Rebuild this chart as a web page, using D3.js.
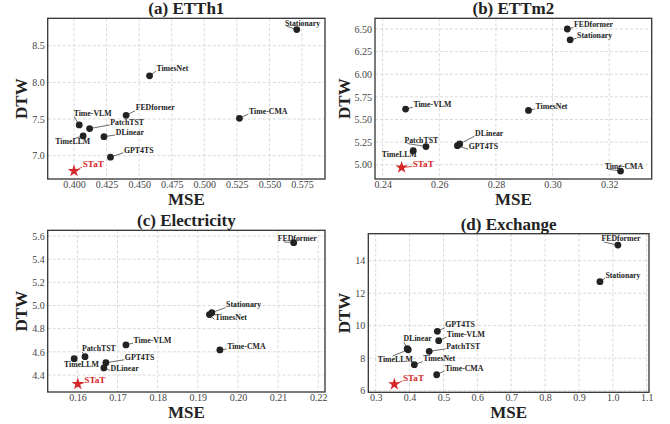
<!DOCTYPE html>
<html>
<head>
<meta charset="utf-8">
<script src="https://cdn.jsdelivr.net/npm/d3@7"></script>
<style>
  body { margin: 0; background: #fff; }
  svg { display: block; }
  svg text { font-family: "Liberation Serif", "Times New Roman", serif; }
</style>
</head>
<body>
<div id="chart"></div>
<script>
/* 4 scatterplots MSE vs DTW, one per dataset */

const models = ["Stationary", "TimesNet", "FEDformer", "Time-CMA", "Time-VLM",
                "PatchTST", "DLinear", "TimeLLM", "GPT4TS", "STaT"]

// (a) ETTh1
const etth1Mse = [0.571, 0.458, 0.440, 0.527, 0.404, 0.412, 0.423, 0.407, 0.428, 0.400]
const etth1Dtw = [8.72, 8.09, 7.55, 7.51, 7.42, 7.37, 7.26, 7.27, 6.98, 6.79]
const etth1XTicks = [0.400, 0.425, 0.450, 0.475, 0.500, 0.525, 0.550, 0.575]
const etth1YTicks = [7.0, 7.5, 8.0, 8.5]

// (b) ETTm2
const ettm2Mse = [0.3062, 0.2915, 0.3052, 0.3240, 0.2481, 0.2553, 0.2672, 0.2508, 0.2664, 0.2467]
const ettm2Dtw = [6.38, 5.60, 6.50, 4.93, 5.615, 5.20, 5.23, 5.155, 5.21, 4.97]
const ettm2XTicks = [0.24, 0.26, 0.28, 0.30, 0.32]
const ettm2YTicks = [5.00, 5.25, 5.50, 5.75, 6.00, 6.25, 6.50]

// (c) Electricity
const elecMse = [0.1935, 0.1929, 0.2139, 0.1955, 0.1721, 0.1619, 0.1666, 0.1592, 0.1671, 0.1601]
const elecDtw = [4.938, 4.921, 5.542, 4.616, 4.659, 4.558, 4.461, 4.541, 4.506, 4.322]
const elecXTicks = [0.16, 0.17, 0.18, 0.19, 0.20, 0.21, 0.22]
const elecYTicks = [4.4, 4.6, 4.8, 5.0, 5.2, 5.4, 5.6]

// (d) Exchange
const exchMse = [0.962, 0.414, 1.015, 0.480, 0.486, 0.458, 0.393, 0.396, 0.482, 0.355]
const exchDtw = [12.71, 7.60, 14.96, 6.98, 9.08, 8.42, 8.58, 8.52, 9.65, 6.39]
const exchXTicks = [0.3, 0.4, 0.5, 0.6, 0.7, 0.8, 0.9, 1.0, 1.1]
const exchYTicks = [6, 8, 10, 12, 14]

/* décalage des étiquettes (centre du texte - point), en px */
const etth1Offsets = [[5.8, -6.6], [22.8, -7.7], [29, -7.6], [28.8, -7.3], [13.4, -11.7],
                      [37.5, -6.4], [25.9, -4.4], [-10.4, 5.7], [28.3, -7.3], [19.3, -7.4]]
const ettm2Offsets = [[24.5, -4.4], [23, -4.3], [26.2, -4.3], [3.3, -5], [26.8, -4.7],
                      [-4.7, -6.3], [29.5, -10.7], [-14, 3.3], [26, 1], [21.6, -4]]
const elecOffsets = [[31.8, -8], [21.5, 2.6], [3.5, -4], [26.5, -3.7], [26.5, -4.7],
                     [13.8, -8], [20.7, 0], [7.2, 5.6], [33.7, -5.7], [17.1, -4.3]]
const exchOffsets = [[23, -6.4], [24.9, -6], [3.1, -6.3], [27.5, -6.7], [27.1, -6.4],
                     [34, -5.3], [10.5, -10], [-12.9, 9.4], [22.7, -6.6], [19.2, -6.6]]

const panels = [
  {title: "(a) ETTh1", mse: etth1Mse, dtw: etth1Dtw, off: etth1Offsets,
   xTicks: etth1XTicks, yTicks: etth1YTicks, xFmt: ".3f", yFmt: ".1f",
   xDom: [0.3798, 0.5927], yDom: [6.682, 8.874],
   box: {l: 47.7, r: 325, t: 18.3, b: 179}, dtwX: 26.7},
  {title: "(b) ETTm2", mse: ettm2Mse, dtw: ettm2Dtw, off: ettm2Offsets,
   xTicks: ettm2XTicks, yTicks: ettm2YTicks, xFmt: ".2f", yFmt: ".2f",
   xDom: [0.2373, 0.335], yDom: [4.842, 6.618],
   box: {l: 375, r: 651.7, t: 18.3, b: 179}, dtwX: 350},
  {title: "(c) Electricity", mse: elecMse, dtw: elecDtw, off: elecOffsets,
   xTicks: elecXTicks, yTicks: elecYTicks, xFmt: ".2f", yFmt: ".1f",
   xDom: [0.1526, 0.2217], yDom: [4.253, 5.649],
   box: {l: 47.7, r: 325, t: 230.3, b: 392}, dtwX: 26.7},
  {title: "(d) Exchange", mse: exchMse, dtw: exchDtw, off: exchOffsets,
   xTicks: exchXTicks, yTicks: exchYTicks, xFmt: ".1f", yFmt: "d",
   xDom: [0.2782, 1.1068], yDom: [5.90, 15.66],
   box: {l: 368.3, r: 649, t: 233.7, b: 392.3}, dtwX: 350}
]

const serif = "Liberation Serif"
const red = "#d62728"

const svg = d3.select("#chart").append("svg")
  .attr("width", 670)
  .attr("height", 424)
  .attr("font-family", serif)

// coupe le segment p->a à l'entrée dans la boîte (Liang-Barsky)
function clipEntry(x0, y0, x1, y1, bb) {
  const dx = x1 - x0, dy = y1 - y0
  const p = [-dx, dx, -dy, dy]
  const q = [x0 - bb.x0, bb.x1 - x0, y0 - bb.y0, bb.y1 - y0]
  let t0 = 0, t1 = 1
  for (let i = 0; i < 4; i++) {
    if (p[i] === 0) {
      if (q[i] < 0) return 1
    } else {
      const r = q[i] / p[i]
      if (p[i] < 0) t0 = Math.max(t0, r)
      else t1 = Math.min(t1, r)
    }
  }
  return t0 <= t1 ? t0 : 1
}

panels.forEach(p => {
  const {l, r, t, b} = p.box
  const x = d3.scaleLinear().domain(p.xDom).range([l, r])
  const y = d3.scaleLinear().domain(p.yDom).range([b, t])
  const g = svg.append("g")

  // grille
  g.append("g").selectAll("line").data(p.xTicks).join("line")
    .attr("x1", d => x(d)).attr("x2", d => x(d))
    .attr("y1", t).attr("y2", b)
    .attr("stroke", "#cfcfcf").attr("stroke-width", 0.8)
    .attr("stroke-dasharray", "3,2")
  g.append("g").selectAll("line").data(p.yTicks).join("line")
    .attr("y1", d => y(d)).attr("y2", d => y(d))
    .attr("x1", l).attr("x2", r)
    .attr("stroke", "#cfcfcf").attr("stroke-width", 0.8)
    .attr("stroke-dasharray", "3,2")

  // axes (sans traits de graduation)
  const xAxis = g.append("g")
    .attr("transform", "translate(0," + b + ")")
    .call(d3.axisBottom(x).tickValues(p.xTicks).tickFormat(d3.format(p.xFmt))
      .tickSize(0).tickPadding(2))
  const yAxis = g.append("g")
    .attr("transform", "translate(" + l + ",0)")
    .call(d3.axisLeft(y).tickValues(p.yTicks).tickFormat(d3.format(p.yFmt))
      .tickSize(0).tickPadding(3))
  ;[xAxis, yAxis].forEach(a => {
    a.attr("font-family", serif).attr("font-size", 10)
    a.select(".domain").remove()
    a.selectAll("text").attr("fill", "#444")
  })

  // cadre
  g.append("rect")
    .attr("x", l).attr("y", t)
    .attr("width", r - l).attr("height", b - t)
    .attr("fill", "none").attr("stroke", "#333").attr("stroke-width", 1.3)

  // titre et noms d'axes
  g.append("text")
    .attr("x", (l + r) / 2).attr("y", t - 4)
    .attr("text-anchor", "middle")
    .attr("font-size", 17).attr("font-weight", "bold").attr("fill", "#222")
    .text(p.title)
  g.append("text")
    .attr("x", (l + r) / 2).attr("y", b + 26)
    .attr("text-anchor", "middle")
    .attr("font-size", 17).attr("font-weight", "bold").attr("fill", "#222")
    .text("MSE")
  g.append("text")
    .attr("transform", "translate(" + p.dtwX + "," + ((t + b) / 2) + ") rotate(-90)")
    .attr("text-anchor", "middle")
    .attr("font-size", 17).attr("font-weight", "bold").attr("fill", "#222")
    .text("DTW")

  const pts = models.map((m, i) => ({
    name: m, px: x(p.mse[i]), py: y(p.dtw[i]),
    dx: p.off[i][0], dy: p.off[i][1], ours: m === "STaT"
  }))

  const leaders = g.append("g")
  const marks = g.append("g")
  const labels = g.append("g")

  marks.selectAll("circle").data(pts.filter(d => !d.ours)).join("circle")
    .attr("cx", d => d.px).attr("cy", d => d.py)
    .attr("r", 3.4).attr("fill", "#222")
  marks.selectAll("path").data(pts.filter(d => d.ours)).join("path")
    .attr("d", d3.symbol(d3.symbolStar).size(48))
    .attr("transform", d => "translate(" + d.px + "," + d.py + ")")
    .attr("fill", red)

  labels.selectAll("text").data(pts).join("text")
    .attr("x", d => d.px + d.dx)
    .attr("y", d => d.py + d.dy + (d.ours ? 3.1 : 2.7))
    .attr("text-anchor", "middle")
    .attr("font-size", d => d.ours ? 9.2 : 7.8)
    .attr("font-weight", "bold")
    .attr("fill", d => d.ours ? red : "#222")
    .text(d => d.name)
    .each(function(d) {
      // trait du point vers le coin bas-gauche du texte
      const fs = d.ours ? 9.2 : 7.8
      const w = this.getComputedTextLength()
      const base = d.py + d.dy + (d.ours ? 3.1 : 2.7)
      const left = d.px + d.dx - w / 2
      const bb = {x0: left - 0.5, x1: left + w + 0.5, y0: base - 0.68 * fs - 0.5, y1: base + 0.5}
      if (d.px > bb.x0 && d.px < bb.x1 && d.py > bb.y0 && d.py < bb.y1) return
      const tt = clipEntry(d.px, d.py, left, base, bb)
      const ex = d.px + (left - d.px) * tt, ey = d.py + (base - d.py) * tt
      if (Math.hypot(ex - d.px, ey - d.py) < 4) return
      leaders.append("line")
        .attr("x1", d.px).attr("y1", d.py)
        .attr("x2", ex).attr("y2", ey)
        .attr("stroke", d.ours ? red : "#444").attr("stroke-width", 0.8)
    })
})
</script>
</body>
</html>
